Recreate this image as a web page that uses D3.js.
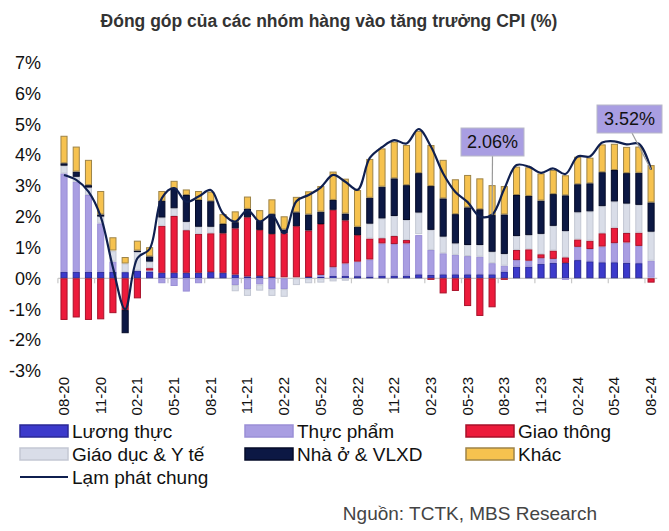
<!DOCTYPE html>
<html><head><meta charset="utf-8">
<script src="https://cdn.jsdelivr.net/npm/d3@7/dist/d3.min.js"></script>
<style>body{margin:0;background:#fff}svg{display:block}text{font-family:"Liberation Sans",Arial,sans-serif}</style>
</head><body><svg id="c" width="669" height="531"></svg>
<script>
const months = ["08-20","09-20","10-20","11-20","12-20","01-21","02-21","03-21","04-21","05-21","06-21","07-21","08-21","09-21","10-21","11-21","12-21","01-22","02-22","03-22","04-22","05-22","06-22","07-22","08-22","09-22","10-22","11-22","12-22","01-23","02-23","03-23","04-23","05-23","06-23","07-23","08-23","09-23","10-23","11-23","12-23","01-24","02-24","03-24","04-24","05-24","06-24","07-24","08-24"];
const luongThuc = [0.21,0.21,0.21,0.21,0.21,0.20,0.25,0.22,0.18,0.18,0.18,0.18,0.20,0.18,0.12,0.06,0.07,0.04,0.03,0.03,0.04,0.05,0.08,0.08,0.07,0.06,0.09,0.09,0.09,0.13,0.11,0.13,0.13,0.13,0.13,0.13,0.22,0.38,0.38,0.47,0.50,0.50,0.59,0.55,0.52,0.52,0.50,0.49,0.02];
const thucPham = [3.19,2.92,2.49,1.57,0.33,0,0,0.03,-0.16,-0.25,-0.43,-0.16,0,0,-0.22,-0.35,-0.20,-0.35,-0.35,0,0,0.06,0.28,0.40,0.47,0.55,1.04,1.02,1.04,1.27,0.81,0.68,0.63,0.59,0.57,0.36,0.19,0.21,0.19,0.18,0.13,-0.05,0.43,0.40,0.51,0.62,0.66,0.56,0.55];
const giaoThong = [-1.35,-1.27,-1.35,-1.33,-1.13,-1.03,-0.65,0.08,1.52,1.84,1.38,1.26,1.26,1.28,1.50,1.92,1.50,1.40,1.43,1.66,1.51,1.65,1.86,1.40,0.86,0.68,0.17,0.26,0.11,0.03,-0.05,-0.49,-0.41,-0.90,-1.22,-0.94,-0.05,0.33,0.37,0.13,0.27,0.18,0.24,0.27,0.43,0.50,0.31,0.43,-0.14];
const giaoDucYTe = [0.25,0.16,0.24,0.22,0.34,0.28,0.60,0.21,0.27,0.25,0.27,0.23,0.21,0,-0.20,-0.22,-0.20,-0.22,-0.25,-0.22,-0.16,-0.14,-0.10,-0.08,0,0.48,0.64,0.65,0.65,0.70,0.65,0.54,0.37,0.36,0.38,0.37,0.38,0.45,0.46,0.66,0.80,0.85,0.88,0.95,0.88,0.85,0.95,0.90,0.94];
const nhaO = [0.08,0.17,0.08,0.07,0.02,-0.75,0.05,0.17,0.54,0.65,0.87,0.87,0.83,0.30,0.20,0.27,0.29,0.64,0.12,0.45,0.52,0.40,0.32,0.22,0.27,0.84,1.03,1.22,1.13,1.28,1.42,1.24,0.95,1.22,1.16,1.19,1.28,1.33,1.27,1.08,1.03,1.16,0.91,0.91,1.10,1.02,0.99,1.04,0.95];
const khac = [0.89,0.81,0.82,0.76,0.43,0.21,0.32,0.30,0.32,0.24,0.18,0.29,0.31,0.32,0.35,0.40,0.35,0.48,0.43,0.50,0.75,0.83,0.92,1.13,1.19,1.26,1.24,1.19,1.30,1.37,1.33,1.25,1.13,1.05,1.00,0.97,0.92,0.92,0.93,0.88,0.78,0.65,0.89,0.83,0.90,0.85,0.85,0.85,1.21];
const lamPhat = [3.35,3.19,2.81,2.0,0.35,-1.0,0.65,0.95,2.6,2.92,2.48,2.65,2.86,2.1,1.84,2.21,1.84,2.05,1.46,2.5,2.7,2.95,3.35,3.13,2.87,3.9,4.25,4.48,4.37,4.84,4.27,3.4,2.8,2.47,2.0,2.06,2.9,3.67,3.62,3.42,3.56,3.38,3.95,3.95,4.4,4.44,4.34,4.36,3.52];
const yTicks = [-3,-2,-1,0,1,2,3,4,5,6,7];
const labelEvery = 3;
const callouts = [{i:35, text:"2.06%"},{i:48, text:"3.52%"}];

const series = [
  {key:"Lương thực", values:luongThuc, fill:"#3c3acb", stroke:"#2a2897"},
  {key:"Thực phẩm", values:thucPham, fill:"#a99ee2", stroke:"#9a8fd6"},
  {key:"Giao thông", values:giaoThong, fill:"#ec1b3b", stroke:"#a8112a"},
  {key:"Giáo dục & Y tế", values:giaoDucYTe, fill:"#d9dde8", stroke:"#c3c7d3"},
  {key:"Nhà ở & VLXD", values:nhaO, fill:"#0c1844", stroke:"#050b28"},
  {key:"Khác", values:khac, fill:"#f6c24f", stroke:"#9e8448"}
];
const rows = months.map((m,i)=>{const r={month:m}; series.forEach(s=>r[s.key]=s.values[i]); return r;});

const svg = d3.select("#c");
const x = d3.scaleBand().domain(months).range([57.9,657.2]).paddingInner(0.42).paddingOuter(0.21);
const y = d3.scaleLinear().domain([-3,7]).range([370.85,62.35]);

svg.append("text").attr("x",329).attr("y",27).attr("text-anchor","middle")
  .attr("font-size",17.5).attr("font-weight","bold").attr("fill","#333")
  .text("Đóng góp của các nhóm hàng vào tăng trưởng CPI (%)");

// y axis labels
svg.append("g").selectAll("text").data(yTicks).join("text")
  .attr("x",41).attr("y",d=>y(d)).attr("dy","0.36em").attr("text-anchor","end")
  .attr("font-size",18).attr("fill","#111").text(d=>d+"%");

// zero axis
svg.append("line").attr("x1",x.range()[0]).attr("x2",x.range()[1]).attr("y1",y(0)).attr("y2",y(0))
  .attr("stroke","#c8c8c8").attr("stroke-width",1.2);
const step = x.step();
svg.append("g").selectAll("line").data(months.filter((m,i)=>i%labelEvery===0)).join("line")
  .attr("x1",d=>x(d)+x.bandwidth()/2-step/2).attr("x2",d=>x(d)+x.bandwidth()/2-step/2)
  .attr("y1",y(0)).attr("y2",y(0)+5).attr("stroke","#c8c8c8").attr("stroke-width",1.2);

const stack = d3.stack().keys(series.map(s=>s.key)).offset(d3.stackOffsetDiverging);
const stacked = stack(rows);
svg.append("g").selectAll("g").data(stacked).join("g")
  .attr("fill",(d,i)=>series[i].fill).attr("stroke",(d,i)=>series[i].stroke).attr("stroke-width",1)
  .selectAll("rect").data(d=>d.filter(v=>v[1]!==v[0])).join("rect")
  .attr("x",d=>x(d.data.month)+0.5).attr("width",x.bandwidth()-1)
  .attr("y",d=>y(Math.max(d[0],d[1]))+0.5).attr("height",d=>Math.max(0,Math.abs(y(d[0])-y(d[1]))-1));

// x labels
svg.append("g").selectAll("text").data(months.filter((m,i)=>i%labelEvery===0)).join("text")
  .attr("transform",d=>`translate(${x(d)+x.bandwidth()/2+5},377) rotate(-90)`)
  .attr("text-anchor","end").attr("font-size",15).attr("fill","#111").text(d=>d);

// line
const line = d3.line().x((d,i)=>x(months[i])+x.bandwidth()/2).y(d=>y(d)).curve(d3.curveCatmullRom.alpha(0.5));
svg.append("path").datum(lamPhat).attr("d",line).attr("fill","none").attr("stroke","#0f1f4f").attr("stroke-width",2.2);

// callouts
const boxes = [{x:461,y:128,w:63,h:28},{x:597,y:105,w:65,h:28}];
callouts.forEach((c,k)=>{
  const b = boxes[k];
  const px = x(months[c.i])+x.bandwidth()/2, py = y(lamPhat[c.i]);
  svg.append("line").attr("x1",k===0?b.x+b.w/2:b.x+35).attr("y1",b.y+b.h).attr("x2",px).attr("y2",py)
    .attr("stroke","#999").attr("stroke-width",1.2);
  svg.append("rect").attr("x",b.x).attr("y",b.y).attr("width",b.w).attr("height",b.h)
    .attr("fill","#a99ee2").attr("stroke","#b8b8c8");
  svg.append("text").attr("x",b.x+b.w/2).attr("y",b.y+b.h/2).attr("dy","0.36em").attr("text-anchor","middle")
    .attr("font-size",18).attr("fill","#111").text(c.text);
});

// legend
const leg = [
  {s:0,x:20,y:431},{s:1,x:245,y:431},{s:2,x:466,y:431},
  {s:3,x:20,y:454},{s:4,x:245,y:454},{s:5,x:466,y:454}
];
leg.forEach(l=>{
  const s = series[l.s];
  svg.append("rect").attr("x",l.x).attr("y",l.y-6).attr("width",48).attr("height",12)
    .attr("fill",s.fill).attr("stroke",s.stroke).attr("stroke-width",1.5);
  svg.append("text").attr("x",l.x+52).attr("y",l.y).attr("dy","0.36em").attr("font-size",19).attr("fill","#111").text(s.key);
});
svg.append("line").attr("x1",20).attr("x2",68).attr("y1",477).attr("y2",477).attr("stroke","#0f1f4f").attr("stroke-width",2.2);
svg.append("text").attr("x",72).attr("y",477).attr("dy","0.36em").attr("font-size",19).attr("fill","#111").text("Lạm phát chung");

svg.append("text").attr("x",597).attr("y",513).attr("dy","0.36em").attr("text-anchor","end")
  .attr("font-size",19).attr("fill","#444").text("Nguồn: TCTK, MBS Research");
</script></body></html>
